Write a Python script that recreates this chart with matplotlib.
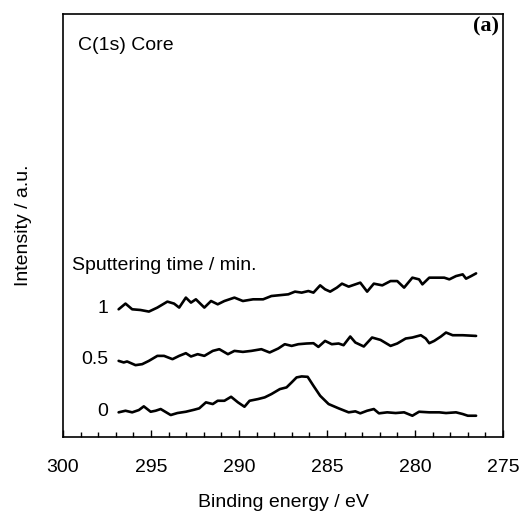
import matplotlib
matplotlib.use("Agg")
import matplotlib.pyplot as plt
from matplotlib.ticker import MultipleLocator

plt.rcParams['font.family'] = ['Liberation Sans', 'DejaVu Sans']

# Binding energy (eV) and intensity (a.u.) for each sputtering time
be_0 = [296.84, 296.45, 296.07, 295.69, 295.41, 295.02, 294.74, 294.45, 293.88, 293.50,
        293.02, 292.55, 292.26, 291.88, 291.49, 291.21, 290.83, 290.45, 290.06, 289.69,
        289.40, 288.92, 288.54, 288.16, 287.68, 287.30, 287.01, 286.73, 286.44, 286.10,
        285.77, 285.39, 284.91, 284.34, 283.77, 283.39, 283.11, 282.72, 282.34, 282.05,
        281.58, 281.10, 280.62, 280.15, 279.77, 279.19, 278.62, 278.24, 277.67, 277.29,
        277.00, 276.53]
int_0 = [24.7, 26.3, 24.7, 27.0, 30.7, 25.3, 26.3, 28.0, 22.0, 24.0,
         25.3, 27.3, 28.7, 34.7, 33.0, 36.3, 36.3, 40.3, 34.7, 30.3,
         36.3, 38.0, 39.7, 43.0, 48.0, 49.7, 54.7, 59.7, 60.7, 60.3,
         51.3, 41.3, 33.0, 28.7, 24.7, 25.7, 23.7, 26.3, 28.0, 23.7,
         24.7, 24.0, 24.7, 21.3, 25.3, 24.7, 24.7, 24.0, 24.7, 23.0,
         21.3, 21.3]

be_05 = [296.84, 296.55, 296.36, 295.88, 295.50, 295.12, 294.64, 294.26, 293.78, 293.40,
         293.02, 292.73, 292.35, 291.97, 291.49, 291.12, 290.63, 290.26, 289.78, 289.30,
         288.73, 288.26, 287.77, 287.40, 287.01, 286.63, 286.16, 285.77, 285.49, 285.11,
         284.73, 284.34, 284.06, 283.68, 283.39, 282.91, 282.44, 281.96, 281.39, 281.01,
         280.53, 280.15, 279.67, 279.39, 279.19, 278.91, 278.53, 278.24, 277.86, 277.29,
         276.53]
int_05 = [76.3, 74.7, 75.7, 72.0, 73.0, 76.3, 81.3, 81.3, 78.0, 81.3,
          84.0, 80.7, 83.0, 81.3, 86.3, 88.0, 83.0, 86.3, 85.3, 86.3,
          88.0, 84.7, 88.7, 93.0, 91.3, 93.0, 93.7, 94.0, 90.3, 96.3,
          93.0, 93.7, 92.0, 100.7, 94.7, 90.7, 99.7, 97.3, 91.3, 93.7,
          98.7, 99.7, 102.0, 98.7, 94.0, 96.3, 100.7, 104.7, 102.0, 102.0,
          101.3]

be_1 = [296.84, 296.45, 296.07, 295.60, 295.12, 294.64, 294.07, 293.69, 293.40, 293.02,
        292.73, 292.45, 291.97, 291.59, 291.21, 290.83, 290.26, 289.78, 289.20, 288.63,
        288.16, 287.20, 286.82, 286.44, 286.06, 285.77, 285.39, 285.11, 284.82, 284.44,
        284.15, 283.77, 283.39, 283.11, 282.72, 282.34, 281.86, 281.39, 281.01, 280.62,
        280.15, 279.77, 279.58, 279.19, 278.82, 278.34, 278.05, 277.67, 277.29, 277.10,
        276.81, 276.53]
int_1 = [128.0, 133.7, 128.0, 127.3, 125.7, 129.7, 135.7, 133.7, 129.7, 139.7,
         134.7, 138.0, 129.7, 136.3, 133.0, 136.3, 139.7, 136.3, 138.0, 138.0,
         141.3, 143.0, 145.7, 144.7, 146.3, 144.7, 152.0, 148.0, 145.7, 149.7,
         153.7, 150.7, 153.0, 154.7, 145.7, 153.7, 152.0, 156.3, 156.3, 149.7,
         159.7, 158.0, 153.0, 159.7, 159.7, 159.7, 158.0, 161.3, 163.0, 158.7,
         161.3, 164.0]

series_labels = ["0", "0.5", "1"]
x_ticks = [300, 295, 290, 285, 280, 275]

fig = plt.figure(figsize=(5.26, 5.15), dpi=100)
ax = fig.add_axes([0.1198, 0.1515, 0.8365, 0.8213])

for be, inten in [(be_0, int_0), (be_05, int_05), (be_1, int_1)]:
    ax.plot(be, inten, color='black', lw=1.9, solid_joinstyle='round',
            solid_capstyle='round')

ax.set_xlim(300, 275)
ax.set_ylim(0, 424)
ax.set_xticks(x_ticks)
ax.set_xticklabels([str(t) for t in x_ticks])
ax.xaxis.set_minor_locator(MultipleLocator(1))
ax.set_yticks([])
ax.tick_params(axis='x', which='major', direction='in', length=5, width=1.0,
               labelsize=14, pad=16)
ax.tick_params(axis='x', which='minor', direction='in', length=3.5, width=1.0)
for s in ax.spines.values():
    s.set_linewidth(1.2)

ax.set_xlabel("Binding energy / eV", fontsize=14, labelpad=13)
ax.set_ylabel("Intensity / a.u.", fontsize=14, labelpad=22)

# series labels placed left of each curve start
for lab, inten in zip(series_labels, [int_0, int_05, int_1]):
    ax.text(297.45, inten[0] + 1, lab, fontsize=14, ha='right', va='center')

ax.text(299.5, 172, "Sputtering time / min.", fontsize=14, ha='left', va='center')
ax.text(299.15, 392, "C(1s) Core", fontsize=14, ha='left', va='center')
ax.text(275.2, 411, "(a)", fontsize=16, ha='right', va='center',
        family=['Liberation Serif', 'DejaVu Serif'], fontweight='bold')

fig.savefig("out.png", dpi=100)
